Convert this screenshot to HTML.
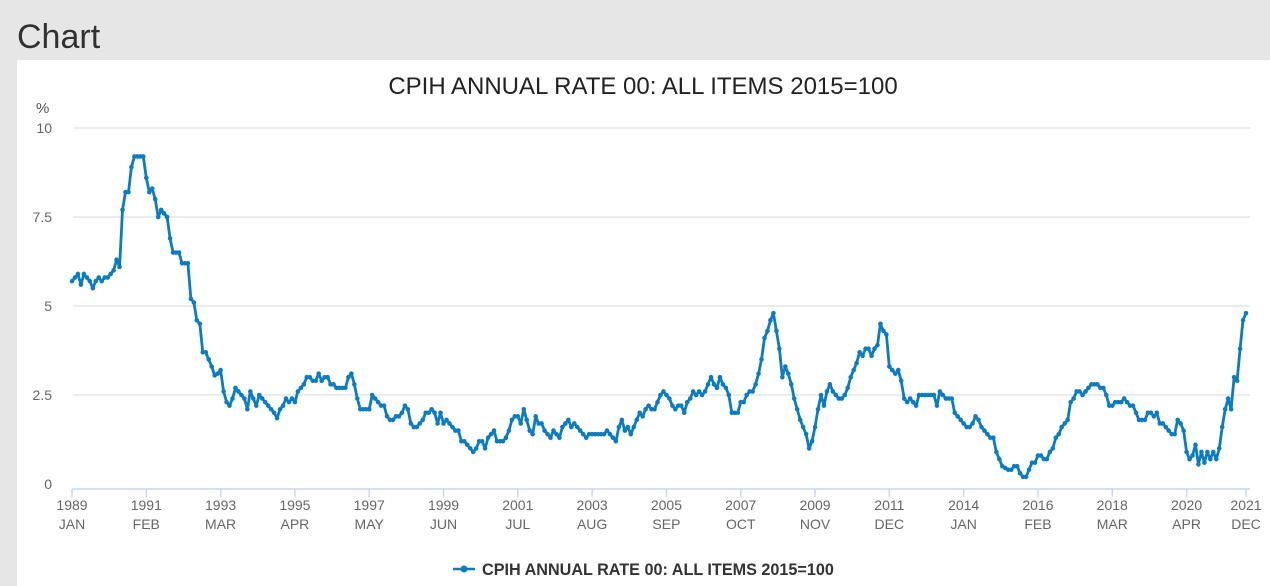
<!DOCTYPE html>
<html><head><meta charset="utf-8"><style>
html,body{margin:0;padding:0;width:1270px;height:586px;overflow:hidden;background:#e6e6e6;font-family:"Liberation Sans",sans-serif;}
#hdr{position:absolute;left:17px;top:18px;font-size:34px;color:#323132;}
#panel{position:absolute;left:17px;top:60px;width:1253px;height:526px;background:#fff;}
svg{position:absolute;left:0;top:0;}
</style></head><body>
<div id="hdr">Chart</div>
<div id="panel"></div>
<svg id="chart" width="1270" height="586"></svg>
<script>
const values=[
5.7,5.8,5.9,5.6,5.9,5.8,5.7,5.5,5.7,5.8,5.7,5.8,
5.8,5.9,6.0,6.3,6.1,7.7,8.2,8.2,8.9,9.2,9.2,9.2,
9.2,8.6,8.2,8.3,8.0,7.5,7.7,7.6,7.5,6.9,6.5,6.5,
6.5,6.2,6.2,6.2,5.2,5.1,4.6,4.5,3.7,3.7,3.5,3.3,
3.05,3.1,3.2,2.6,2.3,2.2,2.4,2.7,2.6,2.5,2.4,2.1,
2.6,2.4,2.2,2.5,2.4,2.3,2.2,2.1,2.0,1.85,2.1,2.2,
2.4,2.3,2.4,2.3,2.6,2.7,2.8,3.0,3.0,2.9,2.9,3.1,
2.9,3.0,3.0,2.8,2.8,2.7,2.7,2.7,2.7,3.0,3.1,2.8,
2.4,2.1,2.1,2.1,2.1,2.5,2.4,2.3,2.2,2.2,1.9,1.8,
1.8,1.9,1.9,2.0,2.2,2.1,1.7,1.6,1.6,1.7,1.8,2.0,
2.0,2.1,2.0,1.7,2.0,1.7,1.8,1.7,1.6,1.5,1.5,1.2,
1.2,1.1,1.0,0.9,1.0,1.2,1.2,1.0,1.3,1.4,1.5,1.2,
1.2,1.2,1.3,1.5,1.8,1.9,1.9,1.7,2.1,1.8,1.5,1.4,
1.9,1.7,1.7,1.5,1.4,1.3,1.5,1.4,1.3,1.6,1.7,1.8,
1.6,1.7,1.6,1.5,1.4,1.3,1.4,1.4,1.4,1.4,1.4,1.4,
1.5,1.4,1.3,1.2,1.6,1.8,1.5,1.6,1.4,1.6,1.8,2.0,
1.9,2.1,2.2,2.1,2.1,2.3,2.5,2.6,2.5,2.4,2.2,2.1,
2.2,2.2,2.0,2.3,2.4,2.6,2.5,2.6,2.5,2.6,2.8,3.0,
2.8,2.7,3.0,2.8,2.7,2.5,2.0,2.0,2.0,2.3,2.3,2.5,
2.6,2.6,2.8,3.1,3.5,4.1,4.3,4.6,4.8,4.3,3.8,3.0,
3.3,3.1,2.8,2.4,2.1,1.8,1.6,1.4,1.0,1.2,1.6,2.1,
2.5,2.2,2.6,2.8,2.6,2.5,2.4,2.4,2.5,2.7,3.0,3.2,
3.4,3.7,3.6,3.8,3.8,3.6,3.8,3.9,4.5,4.3,4.2,3.3,
3.2,3.1,3.2,2.9,2.4,2.3,2.4,2.3,2.2,2.5,2.5,2.5,
2.5,2.5,2.5,2.2,2.6,2.5,2.4,2.4,2.4,2.0,1.9,1.8,
1.7,1.6,1.6,1.7,1.9,1.8,1.6,1.5,1.4,1.3,1.3,0.9,
0.7,0.5,0.45,0.4,0.4,0.5,0.5,0.3,0.2,0.2,0.4,0.6,
0.6,0.8,0.8,0.7,0.7,0.9,1.0,1.3,1.4,1.6,1.7,1.8,
2.3,2.4,2.6,2.6,2.5,2.6,2.7,2.8,2.8,2.8,2.7,2.7,
2.5,2.2,2.2,2.3,2.3,2.3,2.4,2.3,2.2,2.2,2.0,1.8,
1.8,1.8,2.0,2.0,1.9,2.0,1.7,1.7,1.6,1.5,1.4,1.4,
1.8,1.7,1.5,0.9,0.7,0.8,1.1,0.55,0.9,0.6,0.9,0.7,
0.9,0.7,1.0,1.6,2.1,2.4,2.1,3.0,2.9,3.8,4.6,4.8];
const yTicks=[0,2.5,5,7.5,10];
const yTickLabels=["0","2.5","5","7.5","10"];
const xTickMonths=[0,25,50,75,100,125,150,175,200,225,250,275,300,325,350,375,395];
const xTickYears=["1989","1991","1993","1995","1997","1999","2001","2003","2005","2007","2009","2011","2014","2016","2018","2020","2021"];
const xTickMons=["JAN","FEB","MAR","APR","MAY","JUN","JUL","AUG","SEP","OCT","NOV","DEC","JAN","FEB","MAR","APR","DEC"];

const NS="http://www.w3.org/2000/svg";
const svg=document.getElementById('chart');
const X0=72,X1=1246,Y0=484,Y1=128;
const xs=m=>X0+(X1-X0)*m/(values.length-1);
const ys=v=>Y0-(Y0-Y1)*v/10;
function mk(tag,attrs,parent){const e=document.createElementNS(NS,tag);for(const k in attrs)e.setAttribute(k,attrs[k]);(parent||svg).appendChild(e);return e;}

let t=mk('text',{x:643,y:94,'text-anchor':'middle','font-size':24,fill:'#222'});
t.textContent='CPIH ANNUAL RATE 00: ALL ITEMS 2015=100';


t=mk('text',{x:36,y:113,'font-size':15,fill:'#555'});
t.textContent='%';



yTicks.forEach((v,i)=>{
  if(v>0){const g=mk('line',{x1:73,x2:1250,y1:ys(v),y2:ys(v),stroke:'#e6e6e6','stroke-width':1.5});
  
  }
  const l=mk('text',{x:52,y:ys(v)+5,'text-anchor':'end','font-size':14,fill:'#666'});
  l.textContent=yTickLabels[i];
  
  
});
const ax=mk('line',{x1:72,x2:1250,y1:489,y2:489,stroke:'#ccd6eb','stroke-width':1.5});


xTickMonths.forEach((m,i)=>{
  const x=xs(m);
  const tk=mk('line',{x1:x,x2:x,y1:489,y2:497,stroke:'#ccd6eb','stroke-width':1.5});
  
  
  const a=mk('text',{x:x,y:510,'text-anchor':'middle','font-size':14,fill:'#666'});
  a.textContent=xTickYears[i];
  
  
  const b=mk('text',{x:x,y:529,'text-anchor':'middle','font-size':14,fill:'#666'});
  b.textContent=xTickMons[i];
  
  
});
const pts=values.map((v,i)=>xs(i).toFixed(1)+','+ys(v).toFixed(1)).join(' ');
const pl=mk('polyline',{points:pts,fill:'none',stroke:'#0a7cc4','stroke-width':2.8,'stroke-linejoin':'round'});


values.forEach((v,i)=>{
  const c=mk('circle',{cx:xs(i),cy:ys(v),r:2.3,fill:'#0a7cc4'});
  
  
});
const lg=mk('g',{});


mk('line',{x1:453,x2:475,y1:569,y2:569,stroke:'#0a7cc4','stroke-width':2.6},lg);
mk('circle',{cx:464,cy:569,r:3.5,fill:'#0a7cc4'},lg);
const lt=mk('text',{x:482,y:575,'font-size':16.2,'font-weight':'bold',fill:'#333'},lg);
lt.textContent='CPIH ANNUAL RATE 00: ALL ITEMS 2015=100';
</script>
</body></html>
